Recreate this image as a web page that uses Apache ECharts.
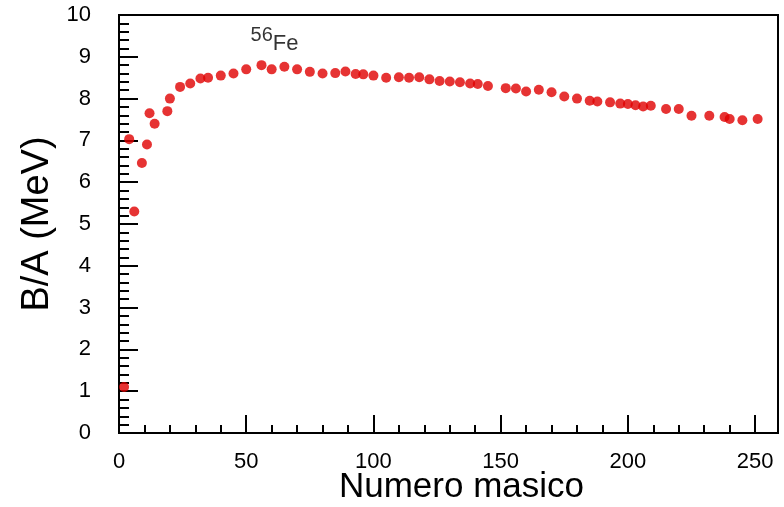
<!DOCTYPE html>
<html>
<head>
<meta charset="utf-8">
<script src="https://cdn.jsdelivr.net/npm/echarts@6/dist/echarts.min.js"></script>
<style>
html,body{margin:0;padding:0;background:#fff;}
#chart{width:784px;height:507px;}
</style>
</head>
<body>
<div id="chart"></div>
<script>
// numero di massa A
var massNumbers = [2, 4, 6, 9, 11, 12, 14, 19, 20, 24, 28, 32, 35, 40, 45, 50, 56, 60, 65, 70,
    75, 80, 85, 89, 93, 96, 100, 105, 110, 114, 118, 122, 126, 130, 134, 138, 141, 145, 152, 156,
    160, 165, 170, 175, 180, 185, 188, 193, 197, 200, 203, 206, 209, 215, 220, 225, 232, 238, 240, 245, 251];
// energia di legame per nucleone (MeV)
var bindingPerA = [1.10, 7.03, 5.30, 6.46, 6.90, 7.65, 7.40, 7.70, 8.00, 8.28, 8.36, 8.48, 8.50, 8.55, 8.60, 8.70, 8.80, 8.70, 8.76, 8.70,
    8.64, 8.60, 8.61, 8.65, 8.59, 8.58, 8.55, 8.50, 8.51, 8.50, 8.51, 8.46, 8.42, 8.41, 8.39, 8.36, 8.35, 8.30, 8.25, 8.24,
    8.17, 8.21, 8.15, 8.05, 8.00, 7.95, 7.93, 7.91, 7.88, 7.87, 7.84, 7.81, 7.83, 7.75, 7.75, 7.59, 7.59, 7.56, 7.51, 7.48, 7.51];
var xTicks = [0, 50, 100, 150, 200, 250];
var yTicks = [0, 1, 2, 3, 4, 5, 6, 7, 8, 9, 10];
var peakA = 56;

var font = 'Liberation Sans';
var chart = echarts.init(document.getElementById('chart'));

var points = massNumbers.map(function (a, i) {
    var item = {value: [a, bindingPerA[i]]};
    if (a === peakA) {
        item.label = {
            show: true,
            position: 'top',
            distance: 5,
            offset: [13, 0],
            formatter: '{a|56}{b|Fe}',
            rich: {
                a: {fontSize: 20, fontFamily: font, color: '#000', verticalAlign: 'top', lineHeight: 30},
                b: {fontSize: 22, fontFamily: font, color: '#000', verticalAlign: 'bottom', lineHeight: 30}
            }
        };
    }
    return item;
});

var option = {
    animation: false,
    grid: {
        left: 119, right: 6, top: 15, bottom: 74,
        outerBoundsMode: 'none',
        containLabel: false,
        show: true, borderColor: '#000', borderWidth: 2
    },
    xAxis: [
        {
            type: 'value', position: 'bottom',
            min: 0, max: 259, interval: 50,
            name: 'Numero masico', nameLocation: 'middle', nameGap: 37,
            nameMoveOverlap: false,
            nameTextStyle: {fontSize: 35, fontFamily: font, color: '#000', padding: [0, 0, 0, 26]},
            axisLine: {lineStyle: {color: '#000', width: 2}},
            axisTick: {inside: true, length: 18, lineStyle: {color: '#000', width: 2}},
            axisLabel: {
                fontSize: 22, fontFamily: font, color: '#000', margin: 18,
                formatter: function (v) { return xTicks.indexOf(v) >= 0 ? String(v) : ''; }
            },
            splitLine: {show: false}
        },
        {
            // tacche secondarie ogni 10
            type: 'value', position: 'bottom',
            min: 0, max: 259, interval: 10,
            axisLine: {show: false},
            axisTick: {inside: true, length: 8, lineStyle: {color: '#000', width: 2}},
            axisLabel: {show: false},
            splitLine: {show: false}
        }
    ],
    yAxis: {
        type: 'value',
        min: 0, max: 10, interval: 1,
        name: 'B/A (MeV)', nameLocation: 'middle', nameGap: 62,
        nameMoveOverlap: false,
        nameTextStyle: {fontSize: 38, fontFamily: font, color: '#000'},
        axisLine: {show: true, lineStyle: {color: '#000', width: 2}},
        axisTick: {show: true, inside: true, length: 19, lineStyle: {color: '#000', width: 2}},
        minorTick: {show: true, splitNumber: 5, length: 10, lineStyle: {color: '#000', width: 2}},
        axisLabel: {
            fontSize: 22, fontFamily: font, color: '#000', margin: 28,
            formatter: function (v) { return yTicks.indexOf(v) >= 0 ? String(v) : ''; }
        },
        splitLine: {show: false}
    },
    series: [{
        type: 'scatter',
        xAxisIndex: 0,
        symbol: 'circle',
        symbolSize: 10,
        itemStyle: {color: '#e00000'},
        data: points
    }]
};
chart.setOption(option);
</script>
</body>
</html>
